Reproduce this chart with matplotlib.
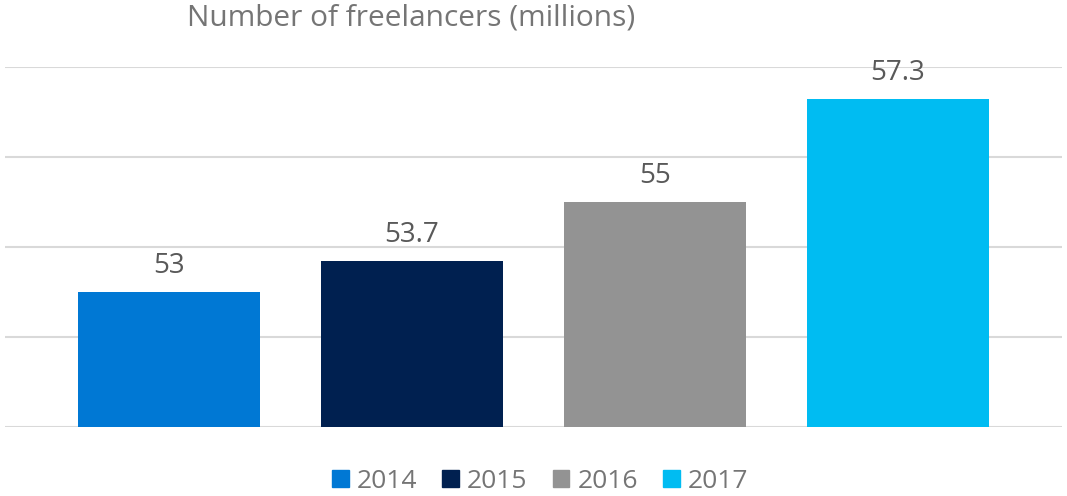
import matplotlib.pyplot as plt
from matplotlib.patches import Patch

plt.rcParams['font.family'] = ['Open Sans', 'DejaVu Sans']

years = ["2014", "2015", "2016", "2017"]
freelancers = [53, 53.7, 55, 57.3]
colors = ["#0078D4", "#002050", "#939393", "#00BCF2"]

fig = plt.figure(figsize=(10.67, 4.96), dpi=100)
ax = fig.add_axes([5 / 1067, 69 / 496, 1057 / 1067, 360 / 496])

x = range(len(years))
bars = ax.bar(x, freelancers, width=0.75, color=colors, zorder=2)

# data labels above bars
for xi, v in zip(x, freelancers):
    ax.text(xi, v + 0.42, f"{v:g}", ha="center", va="baseline",
            fontsize=20, color="#595959", zorder=3)

ax.set_ylim(50, 58)
ax.set_xlim(-0.675, 3.675)
ax.set_yticks([50, 52, 54, 56, 58])
ax.yaxis.grid(True, color="#D9D9D9", linewidth=1.5, zorder=0)
ax.tick_params(left=False, bottom=False, labelleft=False, labelbottom=False)
for s in ax.spines.values():
    s.set_visible(False)

fig.text(411 / 1067, 1 - 18 / 496, "Number of freelancers (millions)",
         ha="center", va="center", fontsize=21.5, color="#757575")

handles = [Patch(color=c, label=y) for c, y in zip(colors, years)]
fig.legend(handles=handles, loc="center", bbox_to_anchor=(540 / 1067, 1 - 481 / 496),
           ncol=4, frameon=False, fontsize=19, labelcolor="#757575",
           handlelength=0.64, handleheight=0.64, handletextpad=0.3, columnspacing=0.95)

fig.savefig("out.png", dpi=100)
